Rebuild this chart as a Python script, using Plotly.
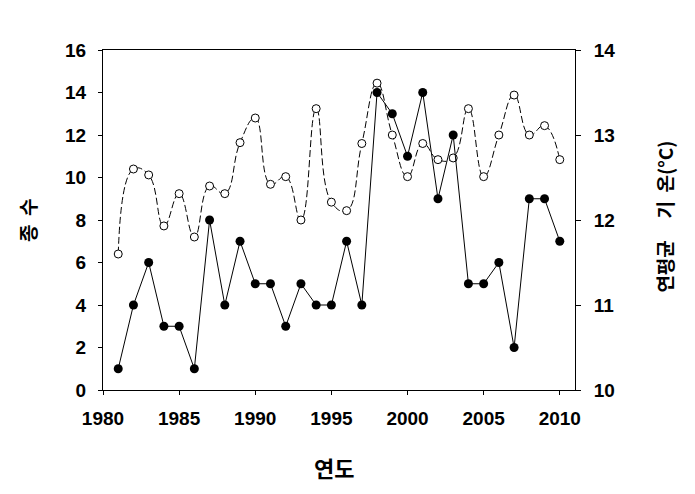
import plotly.graph_objects as go

years = list(range(1981, 2011))
species_count = [1, 4, 6, 3, 3, 1, 8, 4, 7, 5, 5, 3, 5, 4, 4, 7, 4, 14, 13, 11,
                 14, 9, 12, 5, 5, 6, 2, 9, 9, 7]
mean_temp = [11.60, 12.60, 12.53, 11.93, 12.31, 11.80, 12.40, 12.31, 12.91, 13.20,
             12.42, 12.51, 12.00, 13.31, 12.21, 12.11, 12.90, 13.61, 13.00, 12.51,
             12.90, 12.71, 12.73, 13.31, 12.51, 13.00, 13.47, 13.00, 13.11, 12.71]

x_ticks = [1980, 1985, 1990, 1995, 2000, 2005, 2010]
left_ticks = [0, 2, 4, 6, 8, 10, 12, 14, 16]
right_ticks = [10, 11, 12, 13, 14]

NB = "\u00a0"
x_title = "연도"
left_title = "종" + NB * 2 + "수"
right_title = "연평균" + NB * 5 + "기" + NB * 2 + "온(°C)"

tick_font = dict(family="Liberation Sans, Arial", size=19, color="black", weight="bold")
xtitle_font = dict(family="Noto Sans CJK KR", size=22, color="black", weight="bold")
ytitle_font = dict(family="Noto Sans CJK KR", size=19, color="black", weight="bold")

fig = go.Figure()

fig.add_trace(go.Scatter(
    x=years, y=mean_temp, yaxis="y", mode="lines+markers",
    line=dict(color="black", width=1, dash="7px,3px", shape="spline", smoothing=1.3),
    marker=dict(symbol="circle", size=8, color="white", line=dict(color="black", width=1)),
    showlegend=False,
))
fig.add_trace(go.Scatter(
    x=years, y=species_count, yaxis="y2", mode="lines+markers",
    line=dict(color="black", width=1),
    marker=dict(symbol="circle", size=9, color="black"),
    showlegend=False,
))

fig.update_layout(
    width=695, height=494,
    margin=dict(l=103, r=120, t=50, b=104),
    paper_bgcolor="white", plot_bgcolor="white",
    xaxis=dict(
        range=[1980, 2011], tickvals=x_ticks, ticks="outside", ticklen=4,
        tickcolor="black", tickwidth=1, showline=True, linecolor="black",
        linewidth=1, mirror=True, showgrid=False, zeroline=False, tickfont=tick_font,
        ticklabelstandoff=7,
    ),
    yaxis=dict(
        range=[10, 14], tickvals=right_ticks, side="right", anchor="x",
        ticks="outside", ticklen=5, tickcolor="black", tickwidth=1,
        showline=True, linecolor="black", linewidth=1, showgrid=False,
        zeroline=False, tickfont=tick_font, ticklabelstandoff=9,
    ),
    yaxis2=dict(
        range=[0, 16], tickvals=left_ticks, side="left", anchor="x", overlaying="y",
        ticks="outside", ticklen=4, tickcolor="black", tickwidth=1,
        showline=True, linecolor="black", linewidth=1, showgrid=False,
        zeroline=False, tickfont=tick_font, ticklabelstandoff=8,
    ),
    annotations=[
        dict(text=x_title, xref="paper", yref="paper", x=0.49, y=-0.2265,
             xanchor="center", yanchor="middle", showarrow=False, font=xtitle_font),
        dict(text=left_title, xref="paper", yref="paper", x=-0.161, y=0.5,
             xanchor="center", yanchor="middle", textangle=-90, showarrow=False,
             font=ytitle_font),
        dict(text=right_title, xref="paper", yref="paper", x=1.1907, y=0.51,
             xanchor="center", yanchor="middle", textangle=-90, showarrow=False,
             font=ytitle_font),
    ],
)

fig.write_html("out.html")
